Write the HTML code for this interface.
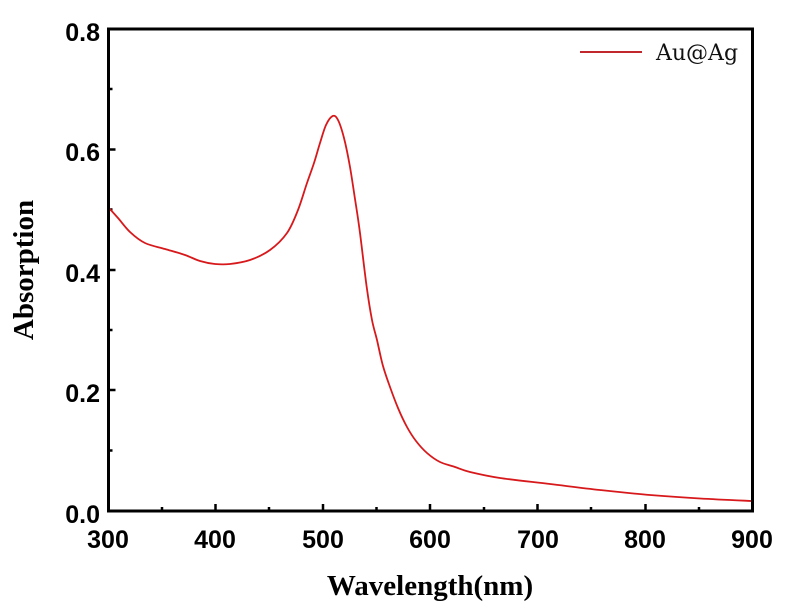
<!DOCTYPE html><html><head><style>body{margin:0;background:#fff}svg{display:block}</style></head><body>
<svg width="786" height="610" xmlns="http://www.w3.org/2000/svg">
<g font-family="Liberation Sans, Arial, sans-serif" font-weight="bold" font-size="25" fill="#000">
<text x="100" y="41" text-anchor="end">0.8</text>
<text x="100" y="161" text-anchor="end">0.6</text>
<text x="100" y="282" text-anchor="end">0.4</text>
<text x="100" y="402" text-anchor="end">0.2</text>
<text x="100" y="523" text-anchor="end">0.0</text>
<text x="108" y="548" text-anchor="middle">300</text>
<text x="215" y="548" text-anchor="middle">400</text>
<text x="323" y="548" text-anchor="middle">500</text>
<text x="430" y="548" text-anchor="middle">600</text>
<text x="538" y="548" text-anchor="middle">700</text>
<text x="645" y="548" text-anchor="middle">800</text>
<text x="752" y="548" text-anchor="middle">900</text>
</g>
<text x="430" y="595" text-anchor="middle" font-family="Liberation Serif, serif" font-weight="bold" font-size="29">Wavelength(nm)</text>
<text transform="translate(33,270) rotate(-90)" text-anchor="middle" font-family="Liberation Serif, serif" font-weight="bold" font-size="29">Absorption</text>
<g stroke="#000" stroke-width="2.5">
<path d="M108.5,511 v-7 M162,511 v-4 M215.5,511 v-7 M269,511 v-4 M323,511 v-7 M376.5,511 v-4 M430,511 v-7 M484,511 v-4 M537.5,511 v-7 M591,511 v-4 M645.5,511 v-7 M699,511 v-4"/>
<path d="M108.5,450.5 h4 M108.5,390 h7 M108.5,330 h4 M108.5,270 h7 M108.5,209.5 h4 M108.5,149.5 h7 M108.5,89 h4"/>
</g>
<path id="c" fill="none" stroke="#d7191c" stroke-width="1.8"/>
<rect x="108.5" y="29" width="644" height="482" fill="none" stroke="#000" stroke-width="3"/>
<line x1="580" y1="52" x2="642" y2="52" stroke="#c0282e" stroke-width="2"/>
<text x="656" y="60" font-family="DejaVu Serif, Liberation Serif, serif" font-size="22" fill="#111">Au@Ag</text>
</svg>
<script>
var p=[[108,207],[118,218],[130,232],[145,243],[165,249],[185,255],[200,261],[215,264],[230,264],[250,260],[270,250],[287,233],[298,210],[307,183],[314,163],[320,143],[326,125],[332.7,116],[338,120],[344,138],[350,167],[355,199],[360,233],[366.7,287],[372,320],[377,340],[383,366],[390,387],[398,408],[407,427],[416,441],[427,453],[440,462],[455,467],[470,472],[500,478],[550,484],[600,490],[650,495],[700,498.5],[752,501]];
var s="M"+p[0][0]+","+p[0][1];
for(var i=0;i<p.length-1;i++){var a=p[i-1]||p[i],b=p[i],c=p[i+1],d=p[i+2]||c;
s+="C"+(b[0]+(c[0]-a[0])/6).toFixed(1)+","+(b[1]+(c[1]-a[1])/6).toFixed(1)+" "+(c[0]-(d[0]-b[0])/6).toFixed(1)+","+(c[1]-(d[1]-b[1])/6).toFixed(1)+" "+c[0]+","+c[1];}
document.getElementById("c").setAttribute("d",s);
</script>
</body></html>
